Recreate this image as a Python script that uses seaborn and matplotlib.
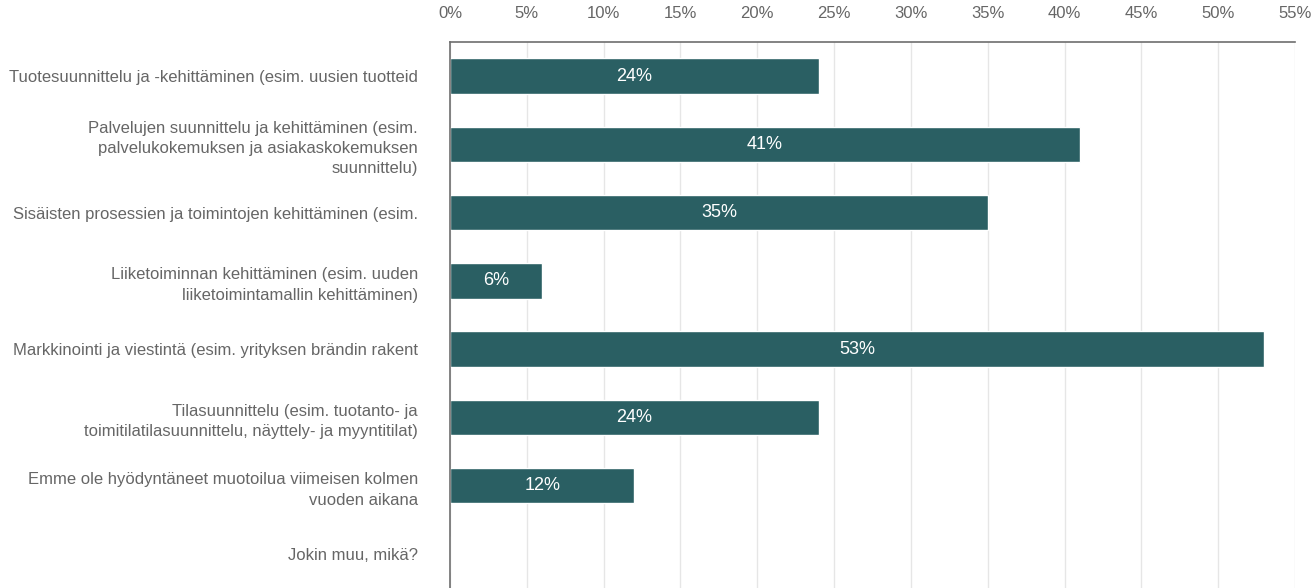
import numpy as np
import pandas as pd
import matplotlib
matplotlib.use("Agg")
import matplotlib.pyplot as plt
import seaborn as sns

# Data
categories = [
    "Tuotesuunnittelu ja -kehittäminen (esim. uusien tuotteid",
    "Palvelujen suunnittelu ja kehittäminen (esim.\npalvelukokemuksen ja asiakaskokemuksen\nsuunnittelu)",
    "Sisäisten prosessien ja toimintojen kehittäminen (esim.",
    "Liiketoiminnan kehittäminen (esim. uuden\nliiketoimintamallin kehittäminen)",
    "Markkinointi ja viestintä (esim. yrityksen brändin rakent",
    "Tilasuunnittelu (esim. tuotanto- ja\ntoimitilatilasuunnittelu, näyttely- ja myyntitilat)",
    "Emme ole hyödyntäneet muotoilua viimeisen kolmen\nvuoden aikana",
    "Jokin muu, mikä?",
]
percent = [24, 41, 35, 6, 53, 24, 12, 0]
xticks = [0, 5, 10, 15, 20, 25, 30, 35, 40, 45, 50, 55]

df = pd.DataFrame({"category": categories, "percent": percent})

sns.set_style("white")
plt.rcParams['font.family'] = ['Liberation Sans', 'DejaVu Sans']

bar_color = "#2a5f63"
text_grey = "#666666"

fig = plt.figure(figsize=(13.12, 5.88), dpi=100)
ax = fig.add_axes([450 / 1312, 0.0, (1295 - 450) / 1312, 1 - 42 / 588])

sns.barplot(data=df, x="percent", y="category", orient="h", color=bar_color,
            saturation=1, width=0.52, ax=ax)

# value labels inside the bars
for i, v in enumerate(percent):
    if v > 0:
        ax.text(v / 2, i, f"{v}%", ha="center", va="center",
                color="white", fontsize=13)

ax.set_xlim(0, 55)
ax.set_ylim(len(categories) - 0.5, -0.5)
ax.set_xticks(xticks)
ax.set_xticklabels([f"{t}%" for t in xticks])
ax.xaxis.tick_top()
ax.tick_params(axis="x", length=0, pad=15, labelsize=12, labelcolor=text_grey)
ax.tick_params(axis="y", length=0, pad=23, labelsize=12, labelcolor=text_grey)
for lbl in ax.get_yticklabels():
    lbl.set_multialignment("right")
    lbl.set_linespacing(1.45)
ax.set_xlabel("")
ax.set_ylabel("")

ax.grid(axis="x", color="#e6e6e6", linewidth=1)
ax.set_axisbelow(True)
for side in ["right", "bottom"]:
    ax.spines[side].set_visible(False)
for side in ["left", "top"]:
    ax.spines[side].set_color("#6e6e6e")
    ax.spines[side].set_linewidth(1.2)

fig.savefig("out.png", dpi=100)
